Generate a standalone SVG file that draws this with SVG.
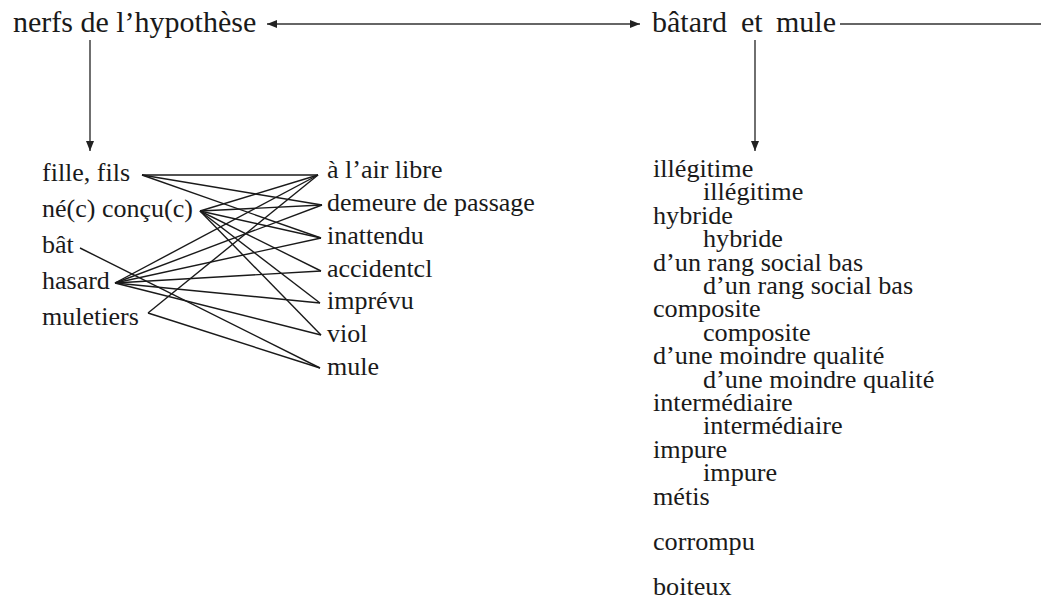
<svg xmlns="http://www.w3.org/2000/svg" width="1041" height="600" viewBox="0 0 1041 600" font-family="'Liberation Serif', 'DejaVu Serif', serif">
  <defs>
    <marker id="head" viewBox="0 0 10 8" refX="10" refY="4" markerWidth="10" markerHeight="8" markerUnits="userSpaceOnUse" orient="auto-start-reverse">
      <path d="M0,0 L10,4 L0,8 Z" fill="#222"/>
    </marker>
    <style>
      text { font-family: 'Liberation Serif', 'DejaVu Serif', serif; fill: #1a1a1a; }
      .title { font-size: 30px; }
      .lbl { font-size: 26px; }
      .item { font-size: 26.2px; }
      .edge { stroke: #1a1a1a; stroke-width: 1.4; fill: none; }
      .arrow { stroke: #333; stroke-width: 1.4; fill: none; }
    </style>
  </defs>

  <rect width="1041" height="600" fill="#ffffff"/>

  <!-- top row -->
  <g id="node-nerfs">
    <text class="title" x="13" y="32">nerfs de l’hypothèse</text>
  </g>
  <g id="node-batard">
    <text class="title" y="32"><tspan x="652">bâtard</tspan><tspan x="741">et</tspan><tspan x="776">mule</tspan></text>
  </g>

  <!-- left column -->
  <g id="node-fille"><text class="lbl" x="42" y="181">fille, fils</text></g>
  <g id="node-ne"><text class="lbl" x="42" y="217">né(c) conçu(c)</text></g>
  <g id="node-bat"><text class="lbl" x="42" y="253">bât</text></g>
  <g id="node-hasard"><text class="lbl" x="42" y="289">hasard</text></g>
  <g id="node-muletiers"><text class="lbl" x="42" y="325">muletiers</text></g>

  <!-- middle column -->
  <g id="node-air"><text class="lbl" x="327" y="178">à l’air libre</text></g>
  <g id="node-demeure"><text class="lbl" x="327" y="211">demeure de passage</text></g>
  <g id="node-inattendu"><text class="lbl" x="327" y="244">inattendu</text></g>
  <g id="node-accidentel"><text class="lbl" x="327" y="277">accidentcl</text></g>
  <g id="node-imprevu"><text class="lbl" x="327" y="309">imprévu</text></g>
  <g id="node-viol"><text class="lbl" x="327" y="342">viol</text></g>
  <g id="node-mule"><text class="lbl" x="327" y="375">mule</text></g>

  <!-- right list -->
  <g id="node-list">
    <text class="item" x="653" y="177">illégitime</text>
    <text class="item" x="703" y="200.4">illégitime</text>
    <text class="item" x="653" y="223.8">hybride</text>
    <text class="item" x="703" y="247.2">hybride</text>
    <text class="item" x="653" y="270.6">d’un rang social bas</text>
    <text class="item" x="703" y="294">d’un rang social bas</text>
    <text class="item" x="653" y="317.4">composite</text>
    <text class="item" x="703" y="340.8">composite</text>
    <text class="item" x="653" y="364.2">d’une moindre qualité</text>
    <text class="item" x="703" y="387.6">d’une moindre qualité</text>
    <text class="item" x="653" y="411">intermédiaire</text>
    <text class="item" x="703" y="434.4">intermédiaire</text>
    <text class="item" x="653" y="457.8">impure</text>
    <text class="item" x="703" y="481.2">impure</text>
    <text class="item" x="653" y="504.6">métis</text>
    <text class="item" x="653" y="550">corrompu</text>
    <text class="item" x="653" y="595">boiteux</text>
  </g>

  <!-- connectors -->
  <g id="connectors">
    <line class="arrow" x1="267" y1="24" x2="640" y2="24" marker-start="url(#head)" marker-end="url(#head)"/>
    <line class="arrow" x1="840" y1="24" x2="1041" y2="24"/>
    <line class="arrow" x1="90" y1="40" x2="90" y2="151" marker-end="url(#head)"/>
    <line class="arrow" x1="755" y1="40" x2="755" y2="151" marker-end="url(#head)"/>

    <!-- fille, fils -->
    <line class="edge" x1="142" y1="175" x2="318" y2="175"/>
    <line class="edge" x1="142" y1="175" x2="322" y2="205"/>
    <line class="edge" x1="142" y1="175" x2="321" y2="238"/>
    <!-- né(c) conçu(c) -->
    <line class="edge" x1="200" y1="211" x2="318" y2="175"/>
    <line class="edge" x1="200" y1="211" x2="322" y2="205"/>
    <line class="edge" x1="200" y1="211" x2="321" y2="238"/>
    <line class="edge" x1="200" y1="211" x2="321" y2="271"/>
    <line class="edge" x1="200" y1="211" x2="320" y2="303"/>
    <line class="edge" x1="200" y1="211" x2="321" y2="335"/>
    <!-- bât -->
    <line class="edge" x1="80" y1="248" x2="320" y2="368"/>
    <!-- hasard -->
    <line class="edge" x1="115" y1="283" x2="318" y2="175"/>
    <line class="edge" x1="115" y1="283" x2="322" y2="205"/>
    <line class="edge" x1="115" y1="283" x2="321" y2="238"/>
    <line class="edge" x1="115" y1="283" x2="321" y2="271"/>
    <line class="edge" x1="115" y1="283" x2="320" y2="303"/>
    <line class="edge" x1="115" y1="283" x2="321" y2="335"/>
    <!-- muletiers -->
    <line class="edge" x1="148" y1="313" x2="318" y2="175"/>
    <line class="edge" x1="148" y1="313" x2="320" y2="368"/>
  </g>
</svg>
